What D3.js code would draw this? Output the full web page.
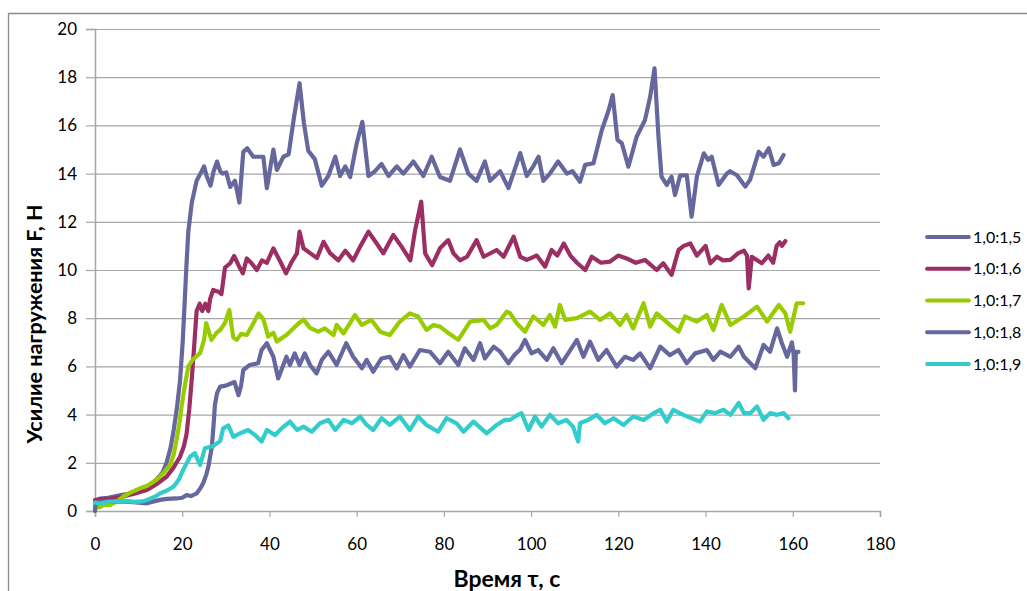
<!DOCTYPE html>
<html><head><meta charset="utf-8">
<script src="https://cdn.jsdelivr.net/npm/d3@7"></script>
<style>
body{margin:0;background:#fff;}
svg{display:block;}
</style></head>
<body>
<svg id="chart" width="1027" height="591"></svg>
<script>
// ---- data ----
const xTicks = [0,20,40,60,80,100,120,140,160,180];
const yTicks = [0,2,4,6,8,10,12,14,16,18,20];
const seriesNames = ["1,0:1,5","1,0:1,6","1,0:1,7","1,0:1,8","1,0:1,9"];
const seriesColors = ["#65679d","#9b2f63","#99cc00","#65679d","#33cccc"];

const s15 = [[0,0.05],[0.3,0.4],[1,0.5],[3,0.55],[5.7,0.65],[8,0.72],[10.3,0.85],[12,1.0],[14.1,1.3],[15.5,1.6],[16.4,2.0],[17.3,2.6],[18,3.3],[18.8,4.3],[19.5,5.4],[20.1,7.0],[20.6,8.8],[21,10.3],[21.4,11.6],[22.2,12.8],[23.3,13.7],[24.2,14.0],[25,14.3],[25.6,13.9],[26.5,13.5],[27.2,14.1],[28,14.5],[28.7,14.1],[29.3,14.0],[30.1,14.05],[31,13.45],[32.1,13.7],[33.1,12.8],[34,14.9],[34.9,15.05],[36.3,14.7],[38.6,14.7],[39.4,13.4],[40.9,15.0],[41.7,14.15],[43.2,14.7],[44.4,14.8],[45.6,16.3],[46.9,17.75],[47.9,16.1],[48.9,14.95],[50.4,14.6],[52,13.5],[53.5,13.9],[55.1,14.7],[56.2,13.9],[57.4,14.3],[58.5,13.86],[60,15.25],[61.3,16.15],[62.7,13.9],[64.2,14.1],[65.7,14.4],[67.3,13.9],[69.2,14.3],[70.7,14.0],[73,14.5],[75.3,13.9],[77.2,14.7],[79.1,13.86],[81.4,13.7],[83.7,15.0],[85.6,14.0],[87.5,13.7],[89.4,14.5],[90.6,13.7],[92.9,14.1],[94.8,13.4],[97.5,14.85],[99,13.9],[100.5,14.3],[101.7,14.7],[102.8,13.7],[104.3,14.0],[106.2,14.5],[108.2,14.0],[109.5,14.1],[111.2,13.66],[112.4,14.36],[114.3,14.43],[116.2,15.8],[117.8,16.64],[118.7,17.26],[119.8,15.4],[120.8,15.26],[122.3,14.29],[124.2,15.53],[126.1,16.22],[127.3,17.19],[128.3,18.37],[129.2,15.53],[129.9,13.87],[131.1,13.53],[132.2,13.87],[133,13.11],[134.2,13.93],[135.7,13.93],[136.8,12.21],[138,13.87],[139.6,14.84],[140.6,14.57],[141.4,14.7],[143,13.53],[144.9,14.0],[145.6,14.1],[147.2,13.93],[149.1,13.46],[150.2,13.74],[152.2,14.91],[153.3,14.7],[154.5,15.05],[155.6,14.36],[156.8,14.43],[157.9,14.77]];

const s16 = [[0,0.45],[1.1,0.5],[3,0.5],[6.5,0.6],[9,0.72],[11.9,0.87],[14,1.1],[16.4,1.42],[18,1.8],[19.5,2.25],[20.4,2.7],[21,3.2],[21.6,4.2],[22.2,5.5],[22.8,7.0],[23.3,8.3],[24,8.6],[24.6,8.3],[25.3,8.6],[26,8.3],[26.4,8.8],[27.1,9.17],[28.3,9.1],[29,9.0],[29.8,10.1],[31,10.28],[31.9,10.58],[32.9,10.2],[33.9,9.86],[34.8,10.48],[35.9,10.28],[37.1,10.0],[38.3,10.4],[39.4,10.3],[40.9,10.9],[42.5,10.34],[43.8,9.86],[45.1,10.34],[46.3,10.69],[46.9,11.59],[47.8,10.9],[49.4,10.69],[50.9,10.5],[52.4,11.17],[53.9,10.7],[55.8,10.4],[57.4,10.8],[59.2,10.4],[60.8,10.97],[62.7,11.59],[64.6,11.1],[66.1,10.69],[68.4,11.45],[70.3,10.97],[72.3,10.4],[73.4,11.65],[74.8,12.84],[75.7,10.69],[77.3,10.2],[79.1,10.9],[81,11.24],[82.2,10.69],[83.7,10.4],[85.3,10.55],[87.5,11.24],[89.1,10.55],[92.1,10.83],[93.7,10.55],[96,11.38],[97.5,10.55],[99,10.42],[101.3,10.6],[103.2,10.14],[104.7,10.83],[106,10.6],[107.5,11.1],[109,10.6],[110.5,10.3],[112.4,10.0],[113.9,10.55],[116,10.3],[118.1,10.35],[120,10.6],[121.9,10.48],[124,10.3],[126.1,10.42],[128.8,10.0],[130.3,10.28],[132.2,9.8],[133.8,10.83],[135,11.0],[136.5,11.1],[138,10.6],[140,11.0],[141.1,10.28],[142.6,10.55],[144,10.4],[145.7,10.42],[147.5,10.7],[148.8,10.8],[149.5,10.6],[149.9,9.24],[150.6,10.55],[152.9,10.28],[154.4,10.6],[155.5,10.3],[156.3,11.0],[157,11.15],[157.5,11.0],[158.3,11.2]];

const s17 = [[0,0.2],[1,0.15],[2,0.25],[3.5,0.25],[5,0.4],[6.5,0.6],[8,0.75],[10.3,0.94],[12,1.05],[14.1,1.3],[15.8,1.6],[17.2,1.9],[18,2.3],[18.7,2.95],[19.4,3.7],[19.9,4.4],[20.6,5.2],[21.4,6.0],[22.5,6.3],[24.1,6.55],[25,7.1],[25.5,7.8],[26.7,7.1],[27.9,7.4],[28.7,7.51],[29.8,7.8],[30.8,8.34],[31.7,7.2],[32.5,7.1],[33.5,7.35],[34.8,7.3],[35.9,7.65],[37.5,8.2],[38.6,7.96],[39.7,7.24],[40.9,7.4],[41.7,7.03],[43.9,7.3],[46.3,7.72],[47.8,7.95],[49.3,7.6],[51.2,7.44],[52.7,7.58],[54.7,7.3],[55.4,7.72],[57,7.37],[59.6,8.13],[61.2,7.72],[63.4,7.93],[65.4,7.44],[67.6,7.3],[69.9,7.86],[72.2,8.2],[74.1,8.07],[76,7.51],[77.6,7.72],[79.1,7.65],[80.6,7.44],[83.3,7.1],[86,7.86],[89.1,7.93],[90.6,7.58],[92.1,7.72],[94.4,8.27],[95.2,8.2],[96.7,7.79],[98.6,7.44],[100.5,8.07],[102.8,7.72],[104.3,8.13],[105.5,7.65],[106.6,8.55],[107.8,7.93],[110.5,8.0],[113.5,8.27],[115.8,7.93],[118.1,8.2],[120.4,7.72],[121.9,8.13],[123.4,7.58],[125.8,8.62],[127.3,7.65],[128.8,8.2],[131.8,7.72],[133.8,7.44],[135.3,8.07],[138,7.86],[140.3,8.13],[141.8,7.51],[143.7,8.55],[145.7,7.72],[148.8,8.07],[151.8,8.48],[154.1,7.86],[156.8,8.55],[158.3,8.2],[159.4,7.44],[160.9,8.62],[162.4,8.62]];

const s18 = [[0,0.0],[0.2,0.35],[2,0.4],[4,0.38],[6,0.4],[8,0.38],[10,0.35],[11.9,0.32],[13.5,0.4],[14.9,0.46],[16.5,0.5],[18.7,0.52],[20,0.55],[21,0.66],[22,0.62],[23.3,0.73],[24.2,0.95],[24.8,1.15],[25.5,1.5],[26,1.84],[26.8,2.67],[27.2,3.6],[27.5,4.4],[28,4.9],[28.7,5.16],[30,5.2],[31.3,5.3],[32,5.35],[32.9,4.81],[33.5,5.2],[34,5.85],[35.5,6.06],[37.4,6.13],[38.2,6.68],[39.4,6.96],[40.9,6.4],[42,5.5],[43.9,6.4],[44.7,6.06],[45.8,6.54],[46.9,6.06],[48.1,6.54],[49.3,6.06],[50.8,5.71],[52,6.27],[53.5,6.61],[55.4,6.06],[57.6,6.96],[59.2,6.4],[61.2,5.92],[62.3,6.27],[63.8,5.78],[65.7,6.33],[67.6,6.4],[69.2,5.92],[70.7,6.47],[72.2,5.99],[74.5,6.68],[76.8,6.61],[79.1,6.13],[81,6.61],[83.3,6.06],[84.8,6.75],[86.8,6.27],[88.3,6.96],[89.4,6.33],[91.4,6.82],[92.9,6.61],[94.8,6.13],[96.3,6.5],[97.5,6.7],[98.6,7.1],[100.1,6.54],[101.6,6.68],[103.6,6.27],[105.1,6.75],[107,6.13],[108.5,6.54],[110.5,7.1],[112,6.4],[113.5,7.03],[115.4,6.27],[117.3,6.68],[119.6,5.99],[121.5,6.4],[123.4,6.27],[125,6.54],[127.3,5.92],[129.6,6.82],[131.8,6.47],[133.8,6.68],[135.7,6.13],[137.6,6.54],[140.3,6.68],[141.8,6.27],[143.4,6.61],[145.7,6.4],[147.6,6.82],[148.8,6.4],[151.4,5.92],[153.3,6.89],[154.8,6.61],[156.4,7.58],[157.5,6.96],[158.7,6.4],[159.8,7.0],[160.2,6.5],[160.5,5.0],[160.7,6.6],[161.3,6.6]];

const s19 = [[0,0.35],[1,0.3],[3,0.38],[5,0.4],[7,0.42],[9,0.38],[11,0.4],[12.5,0.5],[14,0.62],[14.9,0.73],[16.5,0.85],[18,1.01],[19.2,1.3],[20.2,1.7],[21.8,2.25],[22.9,2.4],[23.6,2.1],[24.1,1.91],[25.2,2.6],[27.1,2.7],[28.7,2.9],[29.4,3.43],[30.6,3.55],[31.7,3.08],[33.2,3.22],[35.1,3.36],[36.7,3.15],[38.2,2.88],[39.4,3.36],[41.3,3.15],[42.8,3.43],[44.7,3.71],[46.3,3.36],[47.8,3.5],[49.7,3.29],[51.6,3.64],[53.5,3.78],[55.1,3.36],[57,3.78],[58.9,3.64],[60.8,3.92],[62.3,3.57],[63.8,3.36],[65.7,3.85],[67.6,3.57],[69.9,3.92],[72.2,3.36],[74.1,3.92],[76,3.57],[78.7,3.29],[80.6,3.85],[82.9,3.64],[84.5,3.29],[86.8,3.71],[89.8,3.22],[92.1,3.57],[94,3.78],[95.2,3.78],[96.3,3.92],[97.8,4.06],[99.4,3.36],[100.9,3.92],[102.4,3.5],[104.3,3.99],[106.2,3.64],[108.1,3.78],[109.6,3.5],[110.8,2.88],[111.2,3.64],[113.1,3.78],[115,3.99],[116.9,3.64],[118.9,3.85],[121.2,3.57],[123.4,3.92],[125.8,3.78],[128.1,4.06],[129.6,4.2],[131.1,3.71],[132.6,4.2],[134.9,3.99],[136.8,3.85],[138.7,3.71],[140.3,4.13],[142.2,4.06],[144.1,4.2],[145.7,3.99],[147.6,4.48],[148.8,4.06],[150.3,4.06],[151.8,4.34],[153.3,3.78],[154.8,4.06],[156.4,3.99],[157.9,4.06],[159,3.85]];

const allSeries = [s15, s16, s17, s18, s19];

// ---- layout ----
const svg = d3.select("#chart");
const font = "Lato, 'Open Sans', 'DejaVu Sans', sans-serif";
const plot = {left:95, right:880, top:29, bottom:511};

svg.append("rect").attr("width",1027).attr("height",591).attr("fill","#fff");
// outer frame
svg.append("path").attr("d","M8.5,600 L8.5,13.5 L1040,13.5")
  .attr("fill","none").attr("stroke","#8a8a8a").attr("stroke-width",1.3);

const x = d3.scaleLinear().domain([0,180]).range([plot.left, plot.right]);
const y = d3.scaleLinear().domain([0,20]).range([plot.bottom, plot.top]);

// gridlines
const grid = svg.append("g").attr("transform",`translate(${plot.left},0)`)
  .call(d3.axisLeft(y).tickValues(yTicks.filter(d=>d>0)).tickSize(-(plot.right-plot.left)).tickFormat(""));
grid.select(".domain").remove();
grid.selectAll("line").attr("stroke","#a6a6a6").attr("stroke-width",1.2);

// y axis
const ya = svg.append("g").attr("transform",`translate(${plot.left},0)`)
  .call(d3.axisLeft(y).tickValues(yTicks).tickSize(9).tickPadding(9).tickFormat(d3.format("d")));
ya.select(".domain").attr("stroke","#a6a6a6").attr("stroke-width",1.5);
ya.selectAll("line").attr("stroke","#a6a6a6").attr("stroke-width",1.2);
ya.selectAll("text").attr("font-family",font).attr("font-size",17).attr("fill","#000");

// x axis
const xa = svg.append("g").attr("transform",`translate(0,${plot.bottom})`)
  .call(d3.axisBottom(x).tickValues(xTicks).tickSize(6).tickPadding(21).tickFormat(d3.format("d")));
xa.select(".domain").attr("stroke","#a6a6a6").attr("stroke-width",1.5);
xa.selectAll("line").attr("stroke","#a6a6a6").attr("stroke-width",1.2);
xa.selectAll("text").attr("font-family",font).attr("font-size",17).attr("fill","#000");

// lines
const line = d3.line().x(d=>x(d[0])).y(d=>y(d[1]));
allSeries.forEach((s,i)=>{
  svg.append("path").datum(s).attr("d",line)
    .attr("fill","none").attr("stroke",seriesColors[i]).attr("stroke-width",4.2)
    .attr("stroke-linejoin","round").attr("stroke-linecap","round");
});

// axis titles
svg.append("text").attr("x",507).attr("y",587).attr("text-anchor","middle")
  .attr("font-family",font).attr("font-weight","bold").attr("font-size",23).attr("fill","#000")
  .text("Время τ, с");
svg.append("text").attr("transform","translate(42,324) rotate(-90)").attr("text-anchor","middle")
  .attr("font-family",font).attr("font-weight","bold").attr("font-size",21.5).attr("fill","#000")
  .text("Усилие нагружения F, Н");

// legend
const leg = svg.append("g");
seriesNames.forEach((n,i)=>{
  const ly = 237 + i*31.75;
  leg.append("line").attr("x1",927).attr("x2",969).attr("y1",ly).attr("y2",ly)
    .attr("stroke",seriesColors[i]).attr("stroke-width",3.8).attr("stroke-linecap","round");
  leg.append("text").attr("x",973).attr("y",ly).attr("dy","0.35em")
    .attr("font-family",font).attr("font-size",16).attr("fill","#000").text(n);
});
</script>
</body></html>
